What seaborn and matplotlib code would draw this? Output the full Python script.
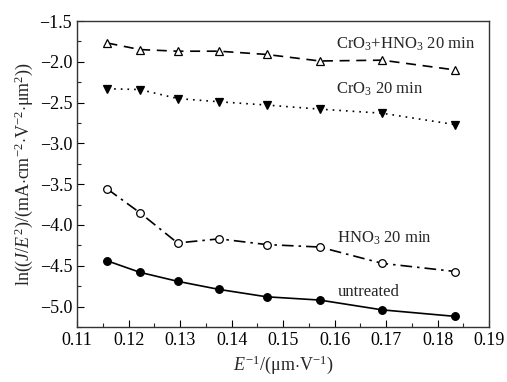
import matplotlib
matplotlib.use('Agg')
import matplotlib.pyplot as plt
import seaborn as sns
import numpy as np
from matplotlib.ticker import MultipleLocator

sns.set_style('ticks')
plt.rcParams['font.family'] = ['Liberation Serif', 'DejaVu Serif']
plt.rcParams['mathtext.fontset'] = 'custom'
plt.rcParams['mathtext.rm'] = 'Liberation Serif'
plt.rcParams['mathtext.it'] = 'Liberation Serif:italic'
plt.rcParams['mathtext.bf'] = 'Liberation Serif:bold'

# Data
inv_field = [0.1159, 0.1222, 0.1295, 0.1376, 0.1468, 0.1571, 0.1692, 0.1834]
untreated = [-4.44, -4.58, -4.69, -4.79, -4.88, -4.92, -5.04, -5.12]
hno3 = [-3.56, -3.85, -4.22, -4.17, -4.24, -4.27, -4.47, -4.57]
cro3 = [-2.33, -2.34, -2.45, -2.49, -2.53, -2.58, -2.63, -2.77]
cro3_hno3 = [-1.77, -1.85, -1.87, -1.87, -1.91, -1.99, -1.98, -2.10]

fig = plt.figure(figsize=(5.07, 3.82), dpi=100)
ax = fig.add_axes([0.152, 0.144, 0.813, 0.801])

series = [
    (untreated, '-', 'o', 'black', 'untreated'),
    (hno3, (0, (7, 3, 1.5, 3)), 'o', 'white', 'HNO$_3$ 20 min'),
    (cro3, (0, (1, 3)), 'v', 'black', 'CrO$_3$ 20 min'),
    (cro3_hno3, (0, (6, 4)), '^', 'white', 'CrO$_3$+HNO$_3$ 20 min'),
]
for vals, ls, mk, fc, name in series:
    sns.lineplot(x=inv_field, y=vals, ax=ax, color='black', linewidth=1.2,
                 linestyle=ls, marker=mk, markersize=5.5, markerfacecolor=fc,
                 markeredgecolor='black', markeredgewidth=0.9)

# Curve labels
ax.text(0.1602, -1.84, 'CrO$_3$+HNO$_3$ 20 min', fontsize=12)
ax.text(0.1602, -2.39, 'CrO$_3$ 20 min', fontsize=12)
ax.text(0.1605, -4.22, 'HNO$_3$ 20 min', fontsize=12)
ax.text(0.1605, -4.87, 'untreated', fontsize=12)

ax.set_xlim(0.11, 0.19)
ax.set_ylim(-5.25, -1.5)
ax.xaxis.set_major_locator(MultipleLocator(0.01))
ax.xaxis.set_minor_locator(MultipleLocator(0.005))
ax.yaxis.set_major_locator(MultipleLocator(0.5))
ax.yaxis.set_minor_locator(MultipleLocator(0.25))
ax.xaxis.set_major_formatter(matplotlib.ticker.FormatStrFormatter('%.2f'))
ax.yaxis.set_major_formatter(matplotlib.ticker.FuncFormatter(lambda v, p: f'{v:.1f}'.replace('-', '\u2212')))
ax.tick_params(which='major', direction='in', length=5, width=0.8, labelsize=13, colors='black')
ax.tick_params(which='minor', direction='in', length=3, width=0.8)
for s in ax.spines.values():
    s.set_linewidth(1.0)
    s.set_color('#333333')

ax.set_xlabel(r'$E^{-1}/(\mathrm{\mu m{\cdot}V^{-1}})$', fontsize=13, labelpad=3)
ax.set_ylabel(r'$\mathrm{ln}((J/E^{2})/(\mathrm{mA{\cdot}cm^{-2}{\cdot}V^{-2}{\cdot}\mu m^{2}}))$',
              fontsize=13, labelpad=3)

plt.savefig('out.png', dpi=100, facecolor='white')
